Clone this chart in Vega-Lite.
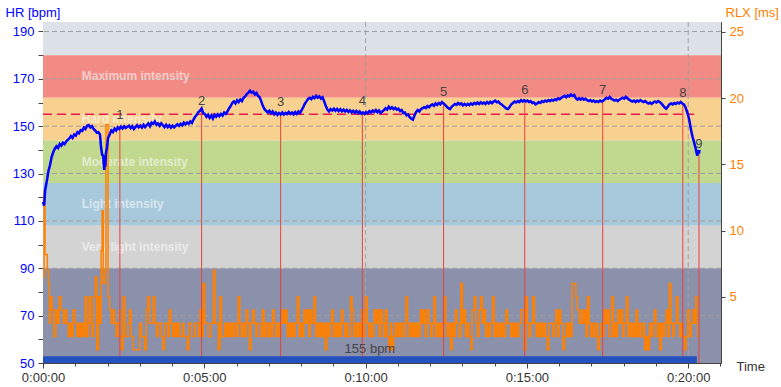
{
"$schema": "https://vega.github.io/schema/vega-lite/v6.json",
"width": 678, "height": 341,
"autosize": {"type": "none"},
"padding": {"left": 43, "top": 22, "right": 60, "bottom": 24},
"background": "white",
"config": {
 "view": {"stroke": "#555", "strokeWidth": 1},
 "axis": {"domainColor": "#444", "tickColor": "#444", "labelFont": "Liberation Sans", "labelFontSize": 13, "titleFont": "Liberation Sans", "titleFontSize": 13, "titleFontWeight": "normal", "grid": false, "zindex": 1},
 "text": {"font": "Liberation Sans"}
},
"datasets": {
 "zones": [
  {"zone": "top", "lo": 180, "hi": 194, "label": ""},
  {"zone": "max", "lo": 162, "hi": 180, "label": "Maximum intensity"},
  {"zone": "hard", "lo": 144, "hi": 162, "label": "Hard intensity"},
  {"zone": "moderate", "lo": 126, "hi": 144, "label": "Moderate intensity"},
  {"zone": "light", "lo": 108, "hi": 126, "label": "Light intensity"},
  {"zone": "verylight", "lo": 90, "hi": 108, "label": "Very light intensity"},
  {"zone": "rest", "lo": 50, "hi": 90, "label": ""}
 ],
 "hlines": [{"v": 70}, {"v": 90}, {"v": 110}, {"v": 130}, {"v": 150}, {"v": 170}, {"v": 190}],
 "vlines": [{"t": 600}, {"t": 1200}],
 "laps": [
  {"lap": "1", "t": 143, "hr": 149.9},
  {"lap": "2", "t": 295, "hr": 156.2},
  {"lap": "3", "t": 442, "hr": 155.5},
  {"lap": "4", "t": 594, "hr": 155.8},
  {"lap": "5", "t": 745, "hr": 159.7},
  {"lap": "6", "t": 896, "hr": 160.6},
  {"lap": "7", "t": 1041, "hr": 160.5},
  {"lap": "8", "t": 1190, "hr": 159.5},
  {"lap": "9", "t": 1220, "hr": 138}
 ],
 "avg": [{"t": 0, "t1": 1211, "hr": 155}],
 "bar": [{"t": 0, "t1": 1216, "lo": 50, "hi": 52.9, "label": "155 bpm"}],
 "hr": [
  {"t":0,"hr":118},{"t":2,"hr":116.5},{"t":4,"hr":123},{"t":6,"hr":125.5},{"t":8,"hr":128},{"t":10,"hr":131},{"t":13,"hr":133.5},{"t":16,"hr":137},{"t":19,"hr":139},{"t":22,"hr":140.5},{"t":25,"hr":141.5},{"t":28,"hr":140.8},{"t":31,"hr":142.5},{"t":34,"hr":141.8},{"t":37,"hr":143},{"t":40,"hr":142.4},{"t":43,"hr":143.5},{"t":46,"hr":144.2},{"t":49,"hr":144.8},{"t":52,"hr":145.8},{"t":55,"hr":145},{"t":58,"hr":146.5},{"t":61,"hr":146},{"t":64,"hr":147.5},{"t":67,"hr":147},{"t":70,"hr":148.3},{"t":73,"hr":148},{"t":76,"hr":149.4},{"t":79,"hr":148.8},{"t":82,"hr":150.2},{"t":85,"hr":150.5},{"t":88,"hr":149.5},{"t":91,"hr":150},{"t":94,"hr":148.8},{"t":97,"hr":148.2},{"t":100,"hr":147.3},{"t":103,"hr":147.5},{"t":106,"hr":146.5},{"t":108,"hr":141},{"t":110,"hr":138},{"t":112,"hr":137.5},{"t":113,"hr":134},{"t":114,"hr":131.5},{"t":115,"hr":136},{"t":116,"hr":133},{"t":117,"hr":138.5},{"t":119,"hr":141},{"t":121,"hr":145},{"t":124,"hr":146.5},{"t":127,"hr":148.2},{"t":130,"hr":147.5},{"t":133,"hr":149},{"t":136,"hr":148.2},{"t":139,"hr":149.5},{"t":142,"hr":148.8},{"t":145,"hr":149.8},{"t":148,"hr":149},{"t":151,"hr":150},{"t":154,"hr":149.2},{"t":157,"hr":149.8},{"t":160,"hr":150.2},{"t":163,"hr":149.2},{"t":166,"hr":150},{"t":169,"hr":148.8},{"t":172,"hr":149.6},{"t":175,"hr":150.4},{"t":178,"hr":149.5},{"t":181,"hr":150.2},{"t":184,"hr":149.4},{"t":187,"hr":150.6},{"t":190,"hr":149.6},{"t":193,"hr":150.5},{"t":196,"hr":151.2},{"t":199,"hr":150},{"t":202,"hr":151.5},{"t":205,"hr":151},{"t":208,"hr":152},{"t":211,"hr":150.6},{"t":214,"hr":151.2},{"t":217,"hr":150.2},{"t":220,"hr":151.2},{"t":223,"hr":150.4},{"t":226,"hr":149.6},{"t":229,"hr":150.6},{"t":232,"hr":149.6},{"t":235,"hr":150.4},{"t":238,"hr":149.4},{"t":241,"hr":150.2},{"t":244,"hr":149.5},{"t":247,"hr":150.2},{"t":250,"hr":150.8},{"t":253,"hr":150.1},{"t":256,"hr":151},{"t":259,"hr":150.4},{"t":262,"hr":151.5},{"t":265,"hr":150.8},{"t":268,"hr":151.6},{"t":271,"hr":151},{"t":274,"hr":152},{"t":277,"hr":151.4},{"t":280,"hr":152.8},{"t":283,"hr":154},{"t":286,"hr":154.8},{"t":289,"hr":156},{"t":292,"hr":156.5},{"t":295,"hr":157.5},{"t":298,"hr":155.5},{"t":301,"hr":155.2},{"t":304,"hr":154},{"t":307,"hr":154.8},{"t":310,"hr":153.5},{"t":313,"hr":154.5},{"t":316,"hr":153.2},{"t":319,"hr":154.8},{"t":322,"hr":154},{"t":325,"hr":155},{"t":328,"hr":154.2},{"t":331,"hr":155.2},{"t":334,"hr":154.5},{"t":337,"hr":155.8},{"t":340,"hr":155.2},{"t":343,"hr":156.2},{"t":346,"hr":157.5},{"t":349,"hr":158.5},{"t":352,"hr":159.8},{"t":355,"hr":160.5},{"t":358,"hr":159.6},{"t":361,"hr":161},{"t":364,"hr":160.2},{"t":367,"hr":161.3},{"t":370,"hr":160.6},{"t":373,"hr":162},{"t":376,"hr":162.6},{"t":379,"hr":163.6},{"t":382,"hr":164.2},{"t":385,"hr":165},{"t":388,"hr":164.2},{"t":391,"hr":164.6},{"t":394,"hr":163.4},{"t":397,"hr":164},{"t":400,"hr":162.8},{"t":403,"hr":162.2},{"t":406,"hr":160.5},{"t":409,"hr":158.5},{"t":412,"hr":157.2},{"t":415,"hr":156.5},{"t":418,"hr":155.8},{"t":421,"hr":156.5},{"t":424,"hr":155.4},{"t":427,"hr":156.2},{"t":430,"hr":155},{"t":433,"hr":155.8},{"t":436,"hr":154.8},{"t":439,"hr":155.6},{"t":442,"hr":155},{"t":445,"hr":155.8},{"t":448,"hr":154.9},{"t":451,"hr":155.6},{"t":454,"hr":155.1},{"t":457,"hr":156},{"t":460,"hr":155.2},{"t":463,"hr":155.8},{"t":466,"hr":155},{"t":469,"hr":156},{"t":472,"hr":155.2},{"t":475,"hr":156.2},{"t":478,"hr":155.5},{"t":481,"hr":156.8},{"t":484,"hr":158},{"t":487,"hr":159.5},{"t":490,"hr":160.5},{"t":493,"hr":161.5},{"t":496,"hr":162},{"t":499,"hr":161.4},{"t":502,"hr":162.4},{"t":505,"hr":161.8},{"t":508,"hr":162.8},{"t":511,"hr":162},{"t":514,"hr":162.6},{"t":517,"hr":161.6},{"t":520,"hr":162.2},{"t":523,"hr":160.5},{"t":526,"hr":158.5},{"t":529,"hr":157},{"t":532,"hr":156.2},{"t":535,"hr":157.2},{"t":538,"hr":156.6},{"t":541,"hr":157.4},{"t":544,"hr":156.5},{"t":547,"hr":157.3},{"t":550,"hr":156.4},{"t":553,"hr":157.2},{"t":556,"hr":156.3},{"t":559,"hr":157},{"t":562,"hr":156.2},{"t":565,"hr":156.9},{"t":568,"hr":156},{"t":571,"hr":156.7},{"t":574,"hr":155.8},{"t":577,"hr":156.5},{"t":580,"hr":155.7},{"t":583,"hr":156.4},{"t":586,"hr":155.5},{"t":589,"hr":156.2},{"t":592,"hr":155.3},{"t":595,"hr":155.8},{"t":598,"hr":155.2},{"t":601,"hr":156},{"t":604,"hr":155.4},{"t":607,"hr":156.4},{"t":610,"hr":155.8},{"t":613,"hr":156.6},{"t":616,"hr":156},{"t":619,"hr":156.8},{"t":622,"hr":155.9},{"t":625,"hr":156.6},{"t":628,"hr":155.6},{"t":631,"hr":156.2},{"t":634,"hr":156.8},{"t":637,"hr":157.6},{"t":640,"hr":157},{"t":643,"hr":158.2},{"t":646,"hr":157.4},{"t":649,"hr":158},{"t":652,"hr":157.2},{"t":655,"hr":157.8},{"t":658,"hr":157},{"t":661,"hr":157.4},{"t":664,"hr":156.4},{"t":667,"hr":156.8},{"t":670,"hr":155.6},{"t":673,"hr":155.8},{"t":676,"hr":154.6},{"t":679,"hr":155},{"t":682,"hr":153.8},{"t":685,"hr":153.2},{"t":688,"hr":152.8},{"t":691,"hr":154.5},{"t":694,"hr":156},{"t":697,"hr":156.8},{"t":700,"hr":156.2},{"t":703,"hr":157.2},{"t":706,"hr":157.6},{"t":709,"hr":158},{"t":712,"hr":157.6},{"t":715,"hr":158.5},{"t":718,"hr":158},{"t":721,"hr":158.8},{"t":724,"hr":159.2},{"t":727,"hr":158.6},{"t":730,"hr":159.6},{"t":733,"hr":159},{"t":736,"hr":159.8},{"t":739,"hr":159.2},{"t":742,"hr":160.2},{"t":745,"hr":159.6},{"t":748,"hr":159},{"t":751,"hr":158.2},{"t":754,"hr":157.6},{"t":757,"hr":157.2},{"t":760,"hr":158.2},{"t":763,"hr":158.8},{"t":766,"hr":159.4},{"t":769,"hr":159},{"t":772,"hr":159.8},{"t":775,"hr":159.2},{"t":778,"hr":159.6},{"t":781,"hr":158.8},{"t":784,"hr":159.4},{"t":787,"hr":158.8},{"t":790,"hr":159.4},{"t":793,"hr":158.9},{"t":796,"hr":159.6},{"t":799,"hr":159.1},{"t":802,"hr":159.8},{"t":805,"hr":159.3},{"t":808,"hr":160},{"t":811,"hr":159.4},{"t":814,"hr":160.1},{"t":817,"hr":159.5},{"t":820,"hr":160},{"t":823,"hr":159.4},{"t":826,"hr":160.2},{"t":829,"hr":159.6},{"t":832,"hr":160.3},{"t":835,"hr":159.7},{"t":838,"hr":160.4},{"t":841,"hr":160.8},{"t":844,"hr":160.1},{"t":847,"hr":160.4},{"t":850,"hr":159.6},{"t":853,"hr":159.2},{"t":856,"hr":158.6},{"t":859,"hr":158},{"t":862,"hr":157.4},{"t":865,"hr":157.2},{"t":868,"hr":158.2},{"t":871,"hr":159.2},{"t":874,"hr":159.8},{"t":877,"hr":160.4},{"t":880,"hr":160},{"t":883,"hr":160.6},{"t":886,"hr":160.2},{"t":889,"hr":161},{"t":892,"hr":160.4},{"t":895,"hr":161},{"t":898,"hr":160.4},{"t":901,"hr":160.8},{"t":904,"hr":160.2},{"t":907,"hr":160.6},{"t":910,"hr":159.8},{"t":913,"hr":160},{"t":916,"hr":159.2},{"t":919,"hr":159.6},{"t":922,"hr":160.2},{"t":925,"hr":159.8},{"t":928,"hr":160.6},{"t":931,"hr":160.2},{"t":934,"hr":160.8},{"t":937,"hr":160.4},{"t":940,"hr":161},{"t":943,"hr":160.6},{"t":946,"hr":161.2},{"t":949,"hr":160.8},{"t":952,"hr":161.4},{"t":955,"hr":161},{"t":958,"hr":161.8},{"t":961,"hr":161.4},{"t":964,"hr":162},{"t":967,"hr":162.4},{"t":970,"hr":162.8},{"t":973,"hr":162.2},{"t":976,"hr":163},{"t":979,"hr":162.6},{"t":982,"hr":163.4},{"t":985,"hr":162.8},{"t":988,"hr":163.2},{"t":991,"hr":161.8},{"t":994,"hr":161.2},{"t":997,"hr":161.8},{"t":1000,"hr":161.2},{"t":1003,"hr":161.8},{"t":1006,"hr":161.2},{"t":1009,"hr":161.6},{"t":1012,"hr":161},{"t":1015,"hr":160.6},{"t":1018,"hr":161},{"t":1021,"hr":160.4},{"t":1024,"hr":160.8},{"t":1027,"hr":160.2},{"t":1030,"hr":160.6},{"t":1033,"hr":160.2},{"t":1036,"hr":160.8},{"t":1039,"hr":160.4},{"t":1042,"hr":160.8},{"t":1045,"hr":161.4},{"t":1048,"hr":162},{"t":1051,"hr":161.6},{"t":1054,"hr":162.4},{"t":1057,"hr":161.6},{"t":1060,"hr":161.2},{"t":1063,"hr":160.8},{"t":1066,"hr":161.2},{"t":1069,"hr":160.6},{"t":1072,"hr":161.2},{"t":1075,"hr":161.6},{"t":1078,"hr":162},{"t":1081,"hr":161.6},{"t":1084,"hr":162.4},{"t":1087,"hr":161.8},{"t":1090,"hr":161.2},{"t":1093,"hr":160.8},{"t":1096,"hr":160.4},{"t":1099,"hr":160.8},{"t":1102,"hr":160.2},{"t":1105,"hr":160.8},{"t":1108,"hr":160.4},{"t":1111,"hr":161},{"t":1114,"hr":160.6},{"t":1117,"hr":160.2},{"t":1120,"hr":160.6},{"t":1123,"hr":160},{"t":1126,"hr":159.6},{"t":1129,"hr":160},{"t":1132,"hr":159.4},{"t":1135,"hr":160},{"t":1138,"hr":160.4},{"t":1141,"hr":160},{"t":1144,"hr":160.6},{"t":1147,"hr":160.2},{"t":1150,"hr":159.6},{"t":1153,"hr":158.8},{"t":1156,"hr":158},{"t":1159,"hr":157.4},{"t":1162,"hr":158.2},{"t":1165,"hr":159.2},{"t":1168,"hr":159.6},{"t":1171,"hr":159.2},{"t":1174,"hr":159.8},{"t":1177,"hr":159.4},{"t":1180,"hr":160},{"t":1183,"hr":159.6},{"t":1186,"hr":160.2},{"t":1189,"hr":159.6},{"t":1192,"hr":159.2},{"t":1195,"hr":158},{"t":1198,"hr":156},{"t":1200,"hr":154.5},{"t":1202,"hr":152.6},{"t":1204,"hr":150},{"t":1206,"hr":147.6},{"t":1208,"hr":145.6},{"t":1210,"hr":144},{"t":1212,"hr":142.2},{"t":1214,"hr":140.5},{"t":1216,"hr":138.4},{"t":1217,"hr":137.6},{"t":1218,"hr":138.8},{"t":1219,"hr":139.8},{"t":1220,"hr":138.4},{"t":1221,"hr":140}
 ],
 "rlx": [
  {"t":0,"rlx":6.5},{"t":2,"rlx":13},{"t":3.7,"rlx":8.2},{"t":8,"rlx":7},{"t":10,"rlx":6},{"t":12,"rlx":3},{"t":14,"rlx":5},{"t":17,"rlx":4},{"t":20,"rlx":2},{"t":24,"rlx":4},{"t":27,"rlx":3},{"t":30,"rlx":5},{"t":34,"rlx":4},{"t":38,"rlx":3},{"t":41,"rlx":4},{"t":44,"rlx":3},{"t":47,"rlx":2},{"t":50,"rlx":3},{"t":53,"rlx":2},{"t":56,"rlx":4},{"t":60,"rlx":3},{"t":63,"rlx":2},{"t":66,"rlx":3},{"t":69,"rlx":2},{"t":72,"rlx":3},{"t":75,"rlx":2},{"t":78,"rlx":5},{"t":81,"rlx":2},{"t":84,"rlx":3},{"t":86,"rlx":5},{"t":89,"rlx":3},{"t":91,"rlx":2},{"t":94,"rlx":5},{"t":97,"rlx":6.5},{"t":100,"rlx":1},{"t":103,"rlx":5},{"t":106,"rlx":3},{"t":108,"rlx":8.5},{"t":110,"rlx":11.5},{"t":112,"rlx":6},{"t":115,"rlx":7},{"t":117,"rlx":18},{"t":121,"rlx":5},{"t":124,"rlx":4},{"t":127,"rlx":3},{"t":130,"rlx":4},{"t":133,"rlx":3},{"t":136,"rlx":2},{"t":139,"rlx":3},{"t":142,"rlx":4},{"t":144,"rlx":2},{"t":146,"rlx":1},{"t":149,"rlx":5},{"t":152,"rlx":2},{"t":158,"rlx":3},{"t":161,"rlx":4},{"t":164,"rlx":2},{"t":168,"rlx":1},{"t":180,"rlx":3},{"t":183,"rlx":2},{"t":189,"rlx":1},{"t":192,"rlx":4},{"t":195,"rlx":5},{"t":198,"rlx":3},{"t":205,"rlx":5},{"t":208,"rlx":3},{"t":211,"rlx":2},{"t":214,"rlx":3},{"t":220,"rlx":2},{"t":223,"rlx":1},{"t":226,"rlx":3},{"t":232,"rlx":2},{"t":235,"rlx":4},{"t":238,"rlx":3},{"t":241,"rlx":2},{"t":244,"rlx":3},{"t":247,"rlx":2},{"t":250,"rlx":3},{"t":253,"rlx":2},{"t":259,"rlx":3},{"t":262,"rlx":2},{"t":268,"rlx":1},{"t":271,"rlx":3},{"t":277,"rlx":2},{"t":283,"rlx":3},{"t":289,"rlx":2},{"t":292,"rlx":4},{"t":295,"rlx":2},{"t":298,"rlx":6},{"t":301,"rlx":3},{"t":307,"rlx":2},{"t":313,"rlx":3},{"t":317,"rlx":7},{"t":320,"rlx":3},{"t":326,"rlx":1},{"t":329,"rlx":5},{"t":332,"rlx":2},{"t":338,"rlx":3},{"t":341,"rlx":2},{"t":344,"rlx":3},{"t":347,"rlx":2},{"t":350,"rlx":3},{"t":353,"rlx":2},{"t":356,"rlx":3},{"t":360,"rlx":2},{"t":363,"rlx":5},{"t":366,"rlx":3},{"t":369,"rlx":2},{"t":372,"rlx":3},{"t":375,"rlx":2},{"t":378,"rlx":4},{"t":381,"rlx":3},{"t":384,"rlx":1},{"t":387,"rlx":3},{"t":390,"rlx":4},{"t":393,"rlx":3},{"t":396,"rlx":2},{"t":398,"rlx":3},
  {"t":400,"rlx":3},{"t":404,"rlx":2},{"t":408,"rlx":4},{"t":411,"rlx":2},{"t":414,"rlx":3},{"t":418,"rlx":2},{"t":421,"rlx":3},{"t":424,"rlx":2},{"t":427,"rlx":4},{"t":430,"rlx":3},{"t":433,"rlx":2},{"t":436,"rlx":3},{"t":439,"rlx":2},{"t":442,"rlx":3},{"t":445,"rlx":4},{"t":448,"rlx":3},{"t":451,"rlx":4},{"t":454,"rlx":2},{"t":457,"rlx":3},{"t":460,"rlx":2},{"t":463,"rlx":3},{"t":466,"rlx":2},{"t":469,"rlx":3},{"t":473,"rlx":5},{"t":476,"rlx":2},{"t":479,"rlx":3},{"t":482,"rlx":2},{"t":485,"rlx":4},{"t":488,"rlx":3},{"t":491,"rlx":4},{"t":494,"rlx":2},{"t":497,"rlx":4},{"t":500,"rlx":3},{"t":504,"rlx":5},{"t":507,"rlx":2},{"t":510,"rlx":3},{"t":513,"rlx":2},{"t":516,"rlx":3},{"t":519,"rlx":2},{"t":522,"rlx":3},{"t":525,"rlx":1},{"t":528,"rlx":3},{"t":531,"rlx":2},{"t":534,"rlx":3},{"t":537,"rlx":4},{"t":540,"rlx":2},{"t":543,"rlx":3},{"t":546,"rlx":2},{"t":549,"rlx":3},{"t":552,"rlx":2},{"t":555,"rlx":4},{"t":558,"rlx":3},{"t":561,"rlx":2},{"t":564,"rlx":3},{"t":567,"rlx":2},{"t":572,"rlx":5},{"t":575,"rlx":4},{"t":578,"rlx":2},{"t":581,"rlx":3},{"t":584,"rlx":2},{"t":587,"rlx":3},{"t":590,"rlx":2},{"t":593,"rlx":4},{"t":596,"rlx":2},{"t":600,"rlx":5},{"t":603,"rlx":3},{"t":606,"rlx":2},{"t":609,"rlx":3},{"t":612,"rlx":2},{"t":616,"rlx":4},{"t":619,"rlx":3},{"t":622,"rlx":4},{"t":625,"rlx":2},{"t":628,"rlx":4},{"t":631,"rlx":3},{"t":634,"rlx":2},{"t":637,"rlx":4},{"t":640,"rlx":2},{"t":643,"rlx":1},{"t":646,"rlx":3},{"t":649,"rlx":1},{"t":652,"rlx":2},{"t":655,"rlx":3},{"t":658,"rlx":2},{"t":661,"rlx":3},{"t":664,"rlx":2},{"t":667,"rlx":3},{"t":671,"rlx":2},{"t":675,"rlx":5},{"t":678,"rlx":3},{"t":681,"rlx":2},{"t":684,"rlx":3},{"t":687,"rlx":2},{"t":690,"rlx":3},{"t":693,"rlx":2},{"t":696,"rlx":3},{"t":699,"rlx":2},{"t":702,"rlx":4},{"t":705,"rlx":3},{"t":708,"rlx":4},{"t":711,"rlx":2},{"t":715,"rlx":4},{"t":718,"rlx":3},{"t":721,"rlx":2},{"t":724,"rlx":3},{"t":727,"rlx":5},{"t":730,"rlx":2},{"t":733,"rlx":3},{"t":736,"rlx":2},{"t":739,"rlx":3},{"t":742,"rlx":2},{"t":746,"rlx":5},{"t":749,"rlx":3},{"t":752,"rlx":2},{"t":755,"rlx":3},{"t":758,"rlx":1},{"t":761,"rlx":3},{"t":764,"rlx":2},{"t":767,"rlx":4},{"t":770,"rlx":3},{"t":773,"rlx":2},{"t":777,"rlx":6},{"t":780,"rlx":3},{"t":783,"rlx":4},{"t":786,"rlx":2},{"t":789,"rlx":3},{"t":792,"rlx":2},{"t":796,"rlx":1},{"t":798,"rlx":4},{"t":802,"rlx":5},{"t":805,"rlx":3},{"t":808,"rlx":2},{"t":811,"rlx":4},{"t":814,"rlx":5},{"t":817,"rlx":3},{"t":820,"rlx":4},{"t":823,"rlx":2},{"t":826,"rlx":3},{"t":829,"rlx":2},{"t":832,"rlx":3},{"t":836,"rlx":5},{"t":839,"rlx":2},{"t":842,"rlx":3},
  {"t":845,"rlx":2},{"t":848,"rlx":3},{"t":851,"rlx":2},{"t":854,"rlx":3},{"t":857,"rlx":2},{"t":861,"rlx":4},{"t":864,"rlx":3},{"t":870,"rlx":2},{"t":873,"rlx":3},{"t":876,"rlx":2},{"t":879,"rlx":3},{"t":882,"rlx":2},{"t":886,"rlx":3},{"t":889,"rlx":4},{"t":895,"rlx":1},{"t":898,"rlx":5},{"t":901,"rlx":3},{"t":904,"rlx":2},{"t":907,"rlx":3},{"t":911,"rlx":5},{"t":914,"rlx":3},{"t":917,"rlx":2},{"t":920,"rlx":3},{"t":923,"rlx":2},{"t":926,"rlx":3},{"t":929,"rlx":2},{"t":932,"rlx":3},{"t":935,"rlx":2},{"t":938,"rlx":1},{"t":941,"rlx":3},{"t":948,"rlx":2},{"t":951,"rlx":3},{"t":954,"rlx":4},{"t":957,"rlx":2},{"t":960,"rlx":4},{"t":963,"rlx":3},{"t":967,"rlx":1},{"t":970,"rlx":2},{"t":973,"rlx":3},{"t":976,"rlx":2},{"t":979,"rlx":3},{"t":982,"rlx":2},{"t":984,"rlx":6},{"t":991,"rlx":5},{"t":994,"rlx":4},{"t":997,"rlx":3},{"t":1001,"rlx":4},{"t":1004,"rlx":3},{"t":1007,"rlx":4},{"t":1010,"rlx":2},{"t":1013,"rlx":5},{"t":1016,"rlx":3},{"t":1019,"rlx":2},{"t":1022,"rlx":3},{"t":1025,"rlx":2},{"t":1029,"rlx":3},{"t":1032,"rlx":1},{"t":1035,"rlx":2},{"t":1038,"rlx":3},{"t":1041,"rlx":2},{"t":1044,"rlx":4},{"t":1047,"rlx":3},{"t":1050,"rlx":4},{"t":1053,"rlx":2},{"t":1058,"rlx":5},{"t":1061,"rlx":2},{"t":1063,"rlx":3},{"t":1066,"rlx":2},{"t":1069,"rlx":4},{"t":1072,"rlx":3},{"t":1075,"rlx":4},{"t":1078,"rlx":2},{"t":1081,"rlx":3},{"t":1085,"rlx":5},{"t":1088,"rlx":2},{"t":1091,"rlx":3},{"t":1094,"rlx":2},{"t":1097,"rlx":3},{"t":1100,"rlx":2},{"t":1103,"rlx":4},{"t":1106,"rlx":2},{"t":1109,"rlx":3},{"t":1112,"rlx":2},{"t":1116,"rlx":3},{"t":1119,"rlx":1},{"t":1122,"rlx":2},{"t":1125,"rlx":1},{"t":1128,"rlx":3},{"t":1131,"rlx":2},{"t":1134,"rlx":3},{"t":1137,"rlx":4},{"t":1140,"rlx":2},{"t":1144,"rlx":3},{"t":1147,"rlx":1},{"t":1150,"rlx":3},{"t":1153,"rlx":2},{"t":1156,"rlx":3},{"t":1159,"rlx":4},{"t":1162,"rlx":2},{"t":1165,"rlx":6},{"t":1168,"rlx":3},{"t":1171,"rlx":2},{"t":1174,"rlx":3},{"t":1178,"rlx":5},{"t":1181,"rlx":3},{"t":1184,"rlx":2},{"t":1187,"rlx":3},{"t":1190,"rlx":2},{"t":1193,"rlx":1},{"t":1196,"rlx":2},{"t":1199,"rlx":4},{"t":1203,"rlx":2},{"t":1206,"rlx":3},{"t":1209,"rlx":4},{"t":1212,"rlx":3},{"t":1214,"rlx":5},{"t":1218,"rlx":2},{"t":1220,"rlx":2}
 ]
},
"encoding": {
 "x": {"field": "t", "type": "quantitative", "scale": {"domain": [0, 1261], "nice": false, "zero": false},
   "axis": {
    "values": [0,60,120,180,240,300,360,420,480,540,600,660,720,780,840,900,960,1020,1080,1140,1200,1260],
    "labelExpr": "datum.value % 300 == 0 ? '0:' + (datum.value < 600 ? '0' : '') + (datum.value / 60) + ':00' : ''",
    "tickSize": {"condition": {"test": "datum.value % 300 == 0", "value": 5}, "value": 3},
    "labelColor": "#333", "labelFlush": false, "labelOverlap": false, "labelPadding": 3,
    "title": "Time", "titleColor": "#333", "titleAlign": "left", "titleBaseline": "alphabetic", "titleX": 693, "titleY": 7
   }}
},
"resolve": {"scale": {"y": "independent"}},
"layer": [
 {
  "data": {"name": "zones"},
  "mark": {"type": "rect"},
  "encoding": {
   "x": null,
   "y": {"field": "lo", "type": "quantitative", "scale": {"domain": [50, 194], "nice": false, "zero": false}, "axis": null},
   "y2": {"field": "hi"},
   "color": {"field": "zone", "type": "nominal", "legend": null,
     "scale": {"domain": ["top", "max", "hard", "moderate", "light", "verylight", "rest"],
               "range": ["#dde2e9", "#f28b84", "#f8d190", "#c1d88f", "#a8c9dc", "#d3d3d3", "#8c91ab"]}}
  }
 },
 {
  "data": {"name": "hlines"},
  "mark": {"type": "rule", "color": "#a0a0a0", "strokeDash": [5, 3], "strokeWidth": 1},
  "encoding": {"x": null, "y": {"field": "v", "type": "quantitative", "scale": {"domain": [50, 194], "nice": false, "zero": false}, "axis": null}}
 },
 {
  "data": {"name": "vlines"},
  "mark": {"type": "rule", "color": "#a0a0a0", "strokeDash": [5, 3], "strokeWidth": 1},
  "encoding": {}
 },
 {
  "data": {"name": "zones"},
  "transform": [{"filter": "datum.label != ''"}, {"calculate": "(datum.lo + datum.hi) / 2", "as": "mid"}, {"calculate": "72", "as": "t"}],
  "mark": {"type": "text", "align": "left", "baseline": "middle", "fontWeight": "bold", "fontSize": 12, "fill": "#ffffff", "opacity": 0.55, "font": "Liberation Sans"},
  "encoding": {
   "y": {"field": "mid", "type": "quantitative", "scale": {"domain": [50, 194], "nice": false, "zero": false}, "axis": null},
   "text": {"field": "label"}
  }
 },
 {
  "data": {"name": "rlx"},
  "mark": {"type": "line", "interpolate": "step-after", "color": "#ff8000", "strokeWidth": 1.5},
  "encoding": {
   "y": {"field": "rlx", "type": "quantitative", "scale": {"domain": [0, 25.75], "nice": false, "zero": false},
     "axis": {"orient": "right", "values": [5, 10, 15, 20, 25], "labelColor": "#ff8000", "tickSize": 4, "labelPadding": 4, "labelOverlap": false, "labelFlush": false,
       "title": "RLX [ms]", "titleColor": "#ff8000", "titleAngle": 0, "titleAlign": "left", "titleBaseline": "alphabetic", "titleX": 4, "titleY": -6}}
  }
 },
 {
  "data": {"name": "avg"},
  "mark": {"type": "rule", "color": "#e8194f", "strokeDash": [9, 5], "strokeWidth": 1.5},
  "encoding": {
   "x2": {"field": "t1"},
   "y": {"field": "hr", "type": "quantitative", "scale": {"domain": [50, 194], "nice": false, "zero": false}, "axis": null}
  }
 },
 {
  "data": {"name": "laps"},
  "mark": {"type": "rule", "color": "#e8403c", "strokeWidth": 1},
  "encoding": {
   "y": {"field": "hr", "type": "quantitative", "scale": {"domain": [50, 194], "nice": false, "zero": false}, "axis": null},
   "y2": {"datum": 50}
  }
 },
 {
  "data": {"name": "laps"},
  "mark": {"type": "text", "align": "center", "baseline": "middle", "dy": -11, "fontSize": 13, "color": "#444", "font": "Liberation Sans"},
  "encoding": {
   "y": {"field": "hr", "type": "quantitative", "scale": {"domain": [50, 194], "nice": false, "zero": false}, "axis": null},
   "text": {"field": "lap"}
  }
 },
 {
  "data": {"name": "hr"},
  "mark": {"type": "line", "color": "#0000ff", "strokeWidth": 2.5},
  "encoding": {
   "y": {"field": "hr", "type": "quantitative", "scale": {"domain": [50, 194], "nice": false, "zero": false},
     "axis": {
      "orient": "left",
      "values": [50,60,70,80,90,100,110,120,130,140,150,160,170,180,190],
      "labelExpr": "(datum.value - 50) % 20 == 0 ? datum.label : ''",
      "labelColor": "#0000ff", "tickSize": 5, "labelPadding": 4, "labelOverlap": false, "labelFlush": false,
      "title": "HR [bpm]", "titleColor": "#0000ff", "titleAngle": 0, "titleAlign": "left", "titleBaseline": "alphabetic", "titleX": -38, "titleY": -6
     }}
  }
 },
 {
  "data": {"name": "bar"},
  "mark": {"type": "rect", "color": "#2352be"},
  "encoding": {
   "x2": {"field": "t1"},
   "y": {"field": "lo", "type": "quantitative", "scale": {"domain": [50, 194], "nice": false, "zero": false}, "axis": null},
   "y2": {"field": "hi"}
  }
 },
 {
  "data": {"name": "bar"},
  "transform": [{"calculate": "(datum.t + datum.t1) / 2", "as": "t"}],
  "mark": {"type": "text", "align": "center", "baseline": "bottom", "fontSize": 13, "color": "#444", "font": "Liberation Sans"},
  "encoding": {
   "y": {"field": "hi", "type": "quantitative", "scale": {"domain": [50, 194], "nice": false, "zero": false}, "axis": null},
   "text": {"field": "label"}
  }
 }
]
}
